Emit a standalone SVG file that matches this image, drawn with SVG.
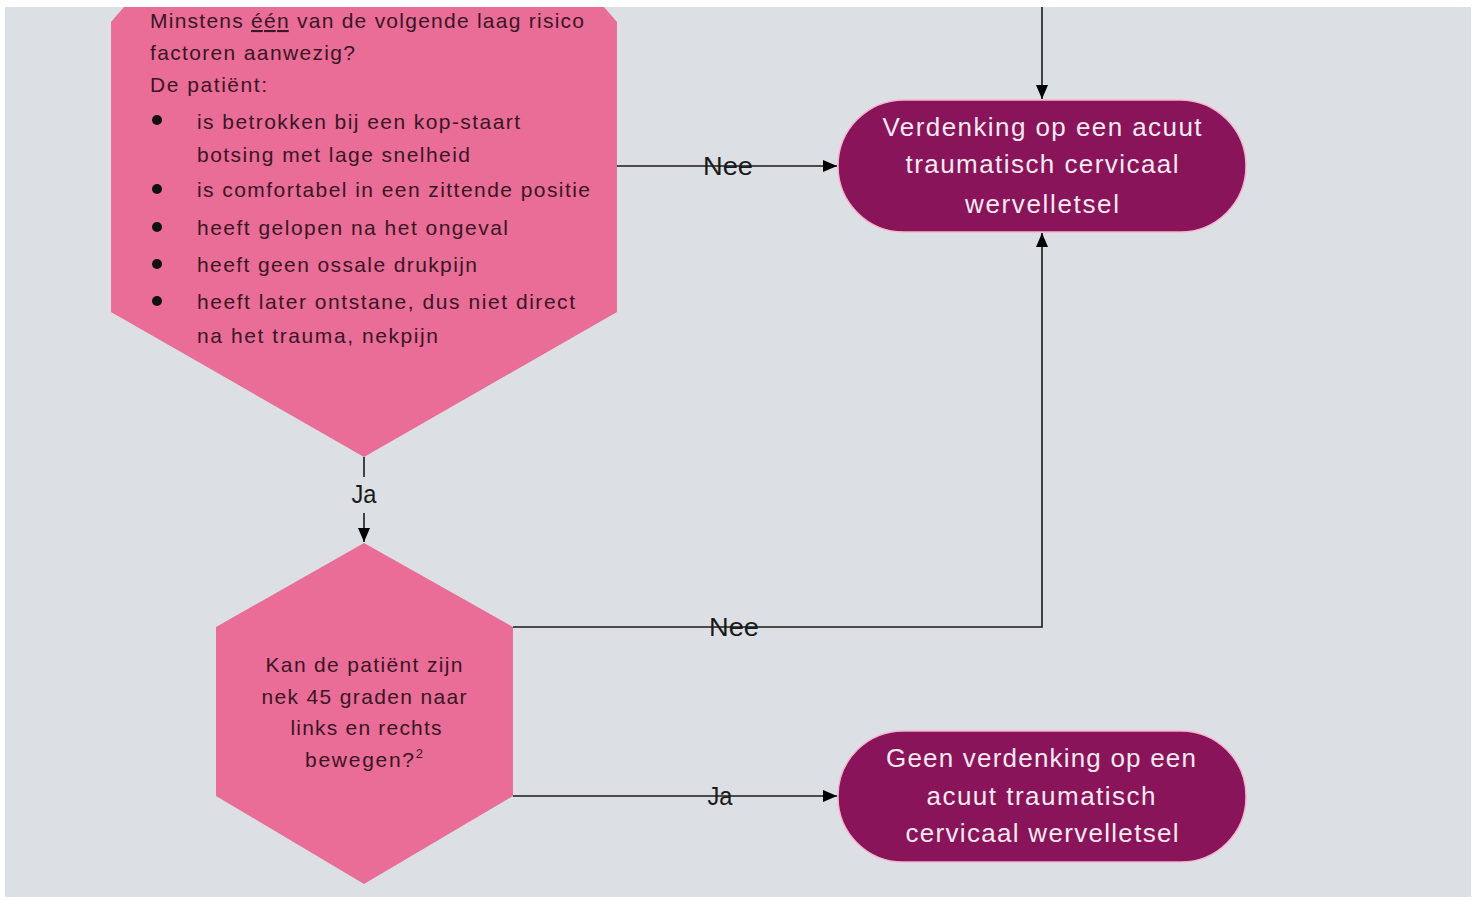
<svg xmlns="http://www.w3.org/2000/svg" width="1477" height="900" viewBox="0 0 1477 900">
<defs>
<style>
.q{fill:#e96d96}
.t{fill:#8a1459;stroke:#f3b5cf;stroke-width:1.5}
.qt{font-family:"Liberation Sans",Arial,sans-serif;font-size:21px;fill:#3a1526}
.tt{font-family:"Liberation Sans",Arial,sans-serif;font-size:26px;fill:#f7e9f1;text-anchor:middle}
.lb{font-family:"Liberation Sans",Arial,sans-serif;font-size:25px;fill:#1a1a1a;text-anchor:middle}
.ln{fill:none;stroke:#1a1a1a;stroke-width:1.6}
</style>
<marker id="ah" viewBox="0 0 14 12" refX="14" refY="6" markerWidth="14" markerHeight="12" markerUnits="userSpaceOnUse" orient="auto">
<path d="M0,0 L14,6 L0,12 Z" fill="#000"/>
</marker>
</defs>
<rect x="0" y="0" width="1477" height="900" fill="#ffffff"/>
<rect x="5" y="7" width="1466" height="890" fill="#dce0e4"/>

<g id="connectors">
<path class="ln" d="M1042,7 V99" marker-end="url(#ah)"/>
<path class="ln" d="M617,166 H837" marker-end="url(#ah)"/>
<path class="ln" d="M364,457 V542" marker-end="url(#ah)"/>
<path class="ln" d="M513,627 H1042 V233" marker-end="url(#ah)"/>
<path class="ln" d="M513,796 H837" marker-end="url(#ah)"/>
<rect x="349" y="477" width="30" height="36" fill="#dce0e4"/>
<text class="lb" x="364" y="503" textLength="25" lengthAdjust="spacingAndGlyphs">Ja</text>
<text class="lb" x="728" y="175" textLength="50" lengthAdjust="spacingAndGlyphs">Nee</text>
<text class="lb" x="734" y="636" textLength="50" lengthAdjust="spacingAndGlyphs">Nee</text>
<text class="lb" x="720" y="805" textLength="25" lengthAdjust="spacingAndGlyphs">Ja</text>
</g>

<g id="q1">
<polygon class="q" points="124,7 604,7 617,22 617,312 364,457 111,312 111,22"/>
<text class="qt" x="150" y="28" textLength="434">Minstens <tspan text-decoration="underline">één</tspan> van de volgende laag risico</text>
<text class="qt" x="150" y="60" textLength="205">factoren aanwezig?</text>
<text class="qt" x="150" y="92" textLength="117">De patiënt:</text>
<g fill="#111">
<circle cx="157" cy="120" r="5"/>
<circle cx="157" cy="189" r="5"/>
<circle cx="157" cy="227" r="5"/>
<circle cx="157" cy="264" r="5"/>
<circle cx="157" cy="301" r="5"/>
</g>
<text class="qt" x="197" y="129" textLength="323">is betrokken bij een kop-staart</text>
<text class="qt" x="197" y="162" textLength="273">botsing met lage snelheid</text>
<text class="qt" x="197" y="197" textLength="393">is comfortabel in een zittende positie</text>
<text class="qt" x="197" y="235" textLength="311">heeft gelopen na het ongeval</text>
<text class="qt" x="197" y="272" textLength="280">heeft geen ossale drukpijn</text>
<text class="qt" x="197" y="309" textLength="378">heeft later ontstane, dus niet direct</text>
<text class="qt" x="197" y="343" textLength="241">na het trauma, nekpijn</text>
</g>

<g id="q2">
<polygon class="q" points="364,543 513,627 513,796 364,884 216,796 216,627"/>
<text class="qt" x="364" y="672" text-anchor="middle" textLength="197">Kan de patiënt zijn</text>
<text class="qt" x="364" y="704" text-anchor="middle" textLength="205">nek 45 graden naar</text>
<text class="qt" x="366" y="735" text-anchor="middle" textLength="151">links en rechts</text>
<text class="qt" x="364" y="767" text-anchor="middle" textLength="118">bewegen?<tspan font-size="13" dy="-9">2</tspan></text>
</g>

<g id="t1">
<rect class="t" x="838" y="100" width="408" height="132" rx="66" ry="66"/>
<text class="tt" x="1042" y="136" textLength="319">Verdenking op een acuut</text>
<text class="tt" x="1042" y="173" textLength="273">traumatisch cervicaal</text>
<text class="tt" x="1042" y="213" textLength="154">wervelletsel</text>
</g>

<g id="t2">
<rect class="t" x="838" y="731" width="408" height="131" rx="65" ry="65"/>
<text class="tt" x="1041" y="767" textLength="310">Geen verdenking op een</text>
<text class="tt" x="1041" y="805" textLength="229">acuut traumatisch</text>
<text class="tt" x="1042" y="842" textLength="273">cervicaal wervelletsel</text>
</g>
</svg>
